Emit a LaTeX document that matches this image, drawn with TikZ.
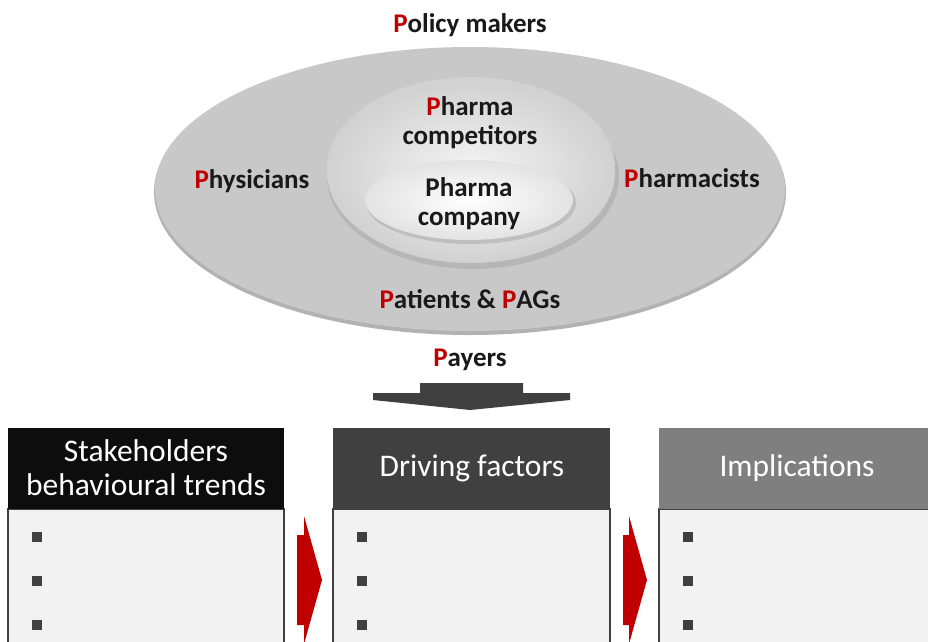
\documentclass[tikz,border=0pt]{standalone}
\usepackage{fontspec}
\setmainfont{Carlito}
\usetikzlibrary{shadows,shapes.geometric}
\definecolor{pred}{HTML}{C00000}
\definecolor{dgray}{HTML}{404040}
\definecolor{mgray}{HTML}{7F7F7F}
\definecolor{bodyfill}{HTML}{F2F2F2}
\definecolor{outerg}{HTML}{C8C8C8}
\newcommand{\RP}{\textcolor{pred}{P}}
\tikzset{
  lbl/.style={font=\fontsize{27}{29}\selectfont\bfseries, text=black!90, align=center, inner sep=0pt},
  hdr/.style={font=\fontsize{31.5}{34}\selectfont, text=white, align=center, inner sep=0pt},
  bodybox/.style={fill=bodyfill, draw=dgray, line width=1.3pt},
  bul/.style={fill=dgray, minimum size=10pt, inner sep=0pt, draw=none},
  redarrow/.style={fill=pred, draw=none},
}
\begin{document}
\begin{tikzpicture}[x=1pt,y=-1pt]
\useasboundingbox (0,0) rectangle (928,641);
\clip (0,0) rectangle (928,641);
% outer ellipse
\fill[black!30] (470,192) ellipse [x radius=316, y radius=143];
\fill[outerg] (470,189) ellipse [x radius=315, y radius=142];
% competitors ellipse
\fill[black!35, opacity=0.5] (473,177) ellipse [x radius=146, y radius=92];
\shade[inner color=white, outer color=black!18] (471,168) ellipse [x radius=144, y radius=91];
\shade[inner color=black!4, outer color=black!18] (471,172) ellipse [x radius=144, y radius=91];
% company ellipse
\fill[black!35, opacity=0.5] (471,203) ellipse [x radius=105, y radius=41];
\shade[inner color=white, outer color=black!11] (469,200) ellipse [x radius=104, y radius=40];

\node[lbl] (policy) at (470,25) {\RP olicy makers};
\node[lbl] (physicians) at (252,181) {\RP hysicians};
\node[lbl] (pharmacists) at (692,178) {\RP harmacists};
\node[lbl] (competitors) at (470,123) {\RP harma\\competitors};
\node[lbl] (company) at (469,204) {Pharma\\company};
\node[lbl] (patients) at (470,299) {\RP atients \& \RP AGs};
\node[lbl] (payers) at (470,360) {\RP ayers};

% down arrow
\fill[dgray] (420,383) -- (523,383) -- (523,393) -- (570,393) -- (570,400) -- (470,410) -- (373,400) -- (373,393) -- (420,393) -- cycle;

% boxes
\draw[bodybox] (8,509) rectangle (284,660);
\fill[black!95] (8,428) rectangle (284,509);
\node[hdr] (h1) at (146,468) {Stakeholders\\behavioural trends};

\draw[bodybox] (333,509) rectangle (610,660);
\fill[dgray] (333,428) rectangle (610,509);
\node[hdr] (h2) at (472,468) {Driving factors};

\draw[bodybox] (659,509) rectangle (940,660);
\fill[mgray] (659,428) rectangle (940,509);
\node[hdr] (h3) at (797,468) {Implications};

\foreach \bx/\nm in {37/a,362/b,688/c}{
  \node[bul] (b\nm1) at (\bx,537) {};
  \node[bul] (b\nm2) at (\bx,581) {};
  \node[bul] (b\nm3) at (\bx,625) {};
}

% red arrows
\fill[redarrow] (297,535) -- (304,535) -- (304,516) -- (322,580) -- (304,644) -- (304,625) -- (297,625) -- cycle;
\fill[redarrow] (623,535) -- (629,535) -- (629,516) -- (647,580) -- (629,644) -- (629,625) -- (623,625) -- cycle;
\end{tikzpicture}
\end{document}
